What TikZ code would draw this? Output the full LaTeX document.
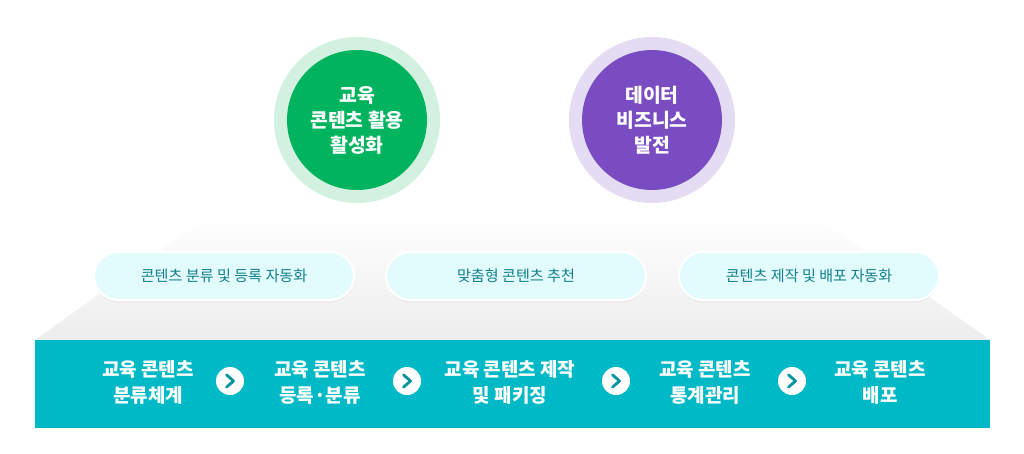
\documentclass[tikz,border=0pt]{standalone}
\usepackage{fontspec}
\setmainfont{Noto Sans CJK KR}
\usetikzlibrary{positioning,shadows}
\definecolor{eduGreen}{HTML}{00B35E}
\definecolor{eduGreenHalo}{HTML}{D3F1E0}
\definecolor{dataPurple}{HTML}{7A4CC2}
\definecolor{dataPurpleHalo}{HTML}{E4DCF3}
\definecolor{pillFill}{HTML}{E2FBFD}
\definecolor{pillText}{HTML}{13808C}
\definecolor{barTeal}{HTML}{00B9C6}
\tikzset{
  goal/.style={circle, minimum size=2.8cm, text=white, align=center,
    font=\fontsize{11}{14.2}\selectfont\bfseries},
  pill/.style={rounded corners=0.48cm, minimum width=5.2cm, minimum height=0.96cm,
    fill=pillFill, draw=white, line width=1.2pt, text=pillText,
    font=\fontsize{8.6}{10}\selectfont, drop shadow={opacity=0.07, shadow xshift=0pt, shadow yshift=-1.5pt}},
  stage/.style={text=white, align=center, font=\fontsize{10.8}{14.8}\selectfont\bfseries},
  nextarrow/.style={circle, fill=white, minimum size=0.56cm, inner sep=0pt}
}
\begin{document}
\begin{tikzpicture}[x=0.02cm, y=-0.02cm]
  \useasboundingbox (0,0) rectangle (1024,453);
  % shadow funnel
  \shade[top color=white, bottom color=gray!14]
    (210,215) -- (814,215) -- (990,340) -- (35,340) -- cycle;
  % goals
  \fill[eduGreenHalo] (357,120) circle (83);
  \fill[dataPurpleHalo] (652,120) circle (83);
  \node[goal, fill=eduGreen] (edu) at (357,120) {교육\\콘텐츠 활용\\활성화};
  \node[goal, fill=dataPurple] (data) at (652,120) {데이터\\비즈니스\\발전};
  % pills
  \node[pill] (auto) at (224,276) {콘텐츠 분류 및 등록 자동화};
  \node[pill] (rec) at (516,276) {맞춤형 콘텐츠 추천};
  \node[pill] (dist) at (809,276) {콘텐츠 제작 및 배포 자동화};
  % process bar
  \fill[barTeal] (35,340) rectangle (990,428);
  \node[stage] (s1) at (148,382) {교육 콘텐츠\\분류체계};
  \node[stage] (s2) at (320,382) {교육 콘텐츠\\등록·분류};
  \node[stage] (s3) at (510,382) {교육 콘텐츠 제작\\및 패키징};
  \node[stage] (s4) at (705,382) {교육 콘텐츠\\통계관리};
  \node[stage] (s5) at (880,382) {교육 콘텐츠\\배포};
  \foreach \x/\n in {230/a1,407/a2,616/a3,792/a4}{
    \node[nextarrow] (\n) at (\x,381) {};
    \draw[barTeal!80!black, line width=1.6pt, line cap=round, line join=round]
      ([xshift=-2pt,yshift=3.5pt]\n.center) -- ([xshift=2pt]\n.center)
      -- ([xshift=-2pt,yshift=-3.5pt]\n.center);
  }
\end{tikzpicture}
\end{document}
